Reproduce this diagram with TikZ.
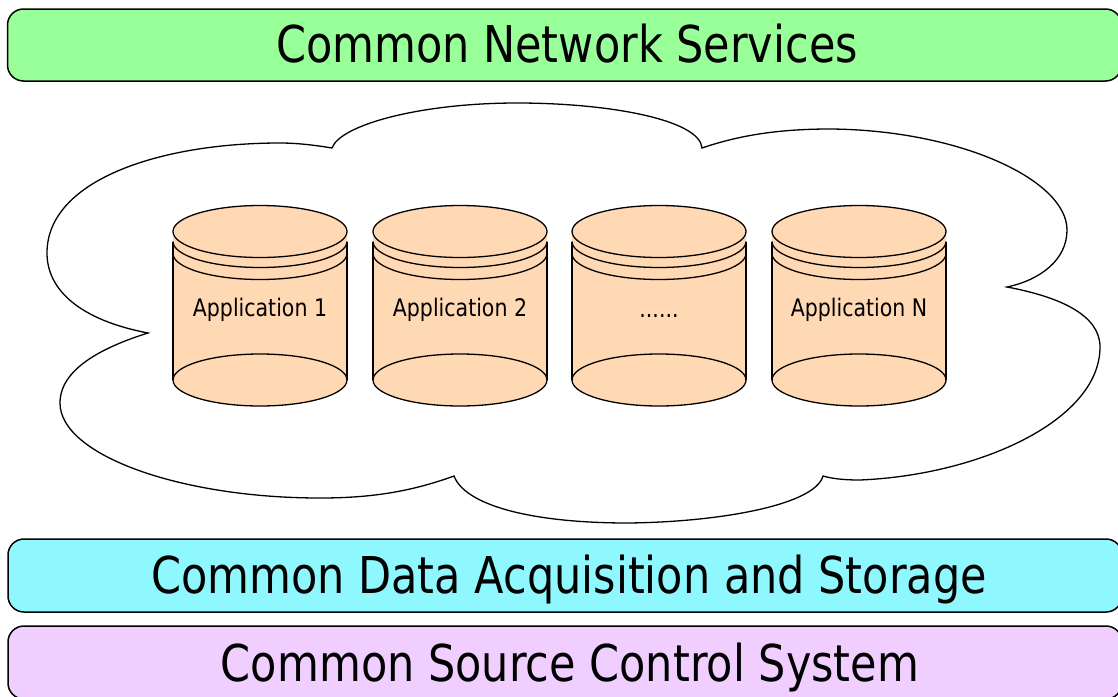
\documentclass[tikz,border=0pt]{standalone}
\usepackage{fontspec}
\setmainfont{DejaVu Sans}
\definecolor{barGreen}{RGB}{153,255,153}
\definecolor{barCyan}{RGB}{143,248,255}
\definecolor{barLilac}{RGB}{240,206,255}
\definecolor{peach}{RGB}{255,216,180}
\begin{document}
\begin{tikzpicture}[x=1pt,y=-1pt,
  bar/.style={draw=black, line width=1.5pt, rounded corners=16pt, inner sep=0pt, minimum width=1114pt},
  bigtext/.style={font=\fontsize{43}{43}\selectfont, anchor=base, inner sep=0pt},
  apptext/.style={font=\fontsize{20.5}{20.5}\selectfont, anchor=base, inner sep=0pt},
  cloudline/.style={draw=black, line width=1.3pt, fill=white},
  cylline/.style={draw=black, line width=1.3pt},
  appcyl/.pic={
    \fill[peach] (-87,380) arc[start angle=180,end angle=360,x radius=87pt,y radius=26pt]
      -- (87,231.5) arc[start angle=0,end angle=180,x radius=87pt,y radius=26pt] -- cycle;
    \draw[cylline] (0,380) ellipse[x radius=87pt,y radius=26pt];
    \draw[cylline] (-87,241.5) -- (-87,380);
    \draw[cylline] (87,241.5) -- (87,380);
    \draw[cylline] (-87,253.5) arc[start angle=180,end angle=360,x radius=87pt,y radius=26pt];
    \draw[cylline] (-87,241.5) arc[start angle=180,end angle=360,x radius=87pt,y radius=26pt];
    \draw[cylline, fill=peach] (0,231.5) ellipse[x radius=87pt,y radius=26pt];
  }]
\fill[white] (0,0) rectangle (1118,696);
\useasboundingbox (0,0) rectangle (1118,696);

% bars
\node[bar, fill=barGreen, minimum height=72pt] (netbar) at (564.5,45) {};
\node[bar, fill=barCyan, minimum height=73pt] (databar) at (565,575.5) {};
\node[bar, fill=barLilac, minimum height=73pt] (srcbar) at (565,662.5) {};
\node[bigtext] (nettext) at (567,62) {\scalebox{1}[1.18]{Common Network Services}};
\node[bigtext] (datatext) at (569,593) {\scalebox{1}[1.18]{Common Data Acquisition and Storage}};
\node[bigtext] (srctext) at (570,681) {\scalebox{1}[1.18]{Common Source Control System}};

% cloud
\draw[cloudline] (332,148) .. controls (340,125) and (420,103) .. (517,103)
  .. controls (610,103) and (700,120) .. (702,148)
  .. controls (740,135) and (780,129) .. (830,129)
  .. controls (960,130) and (1067,180) .. (1067,230)
  .. controls (1067,260) and (1040,280) .. (1007,287)
  .. controls (1060,297) and (1100,315) .. (1100,347)
  .. controls (1100,420) and (980,475) .. (860,480)
  .. controls (840,480) and (830,478) .. (823,476)
  .. controls (815,505) and (720,522) .. (628,523)
  .. controls (530,523) and (465,505) .. (454,476)
  .. controls (410,492) and (370,498) .. (320,498)
  .. controls (180,498) and (60,455) .. (60,403)
  .. controls (60,370) and (100,348) .. (148,333)
  .. controls (80,320) and (47,290) .. (47,253)
  .. controls (47,180) and (160,143) .. (280,143)
  .. controls (300,143) and (320,146) .. (332,148) -- cycle;

% cylinders
\pic at (260,0) {appcyl};
\pic at (460,0) {appcyl};
\pic at (659,0) {appcyl};
\pic at (859,0) {appcyl};
\node[apptext] (app1) at (260,316) {\scalebox{1}[1.18]{Application 1}};
\node[apptext] (app2) at (460,316) {\scalebox{1}[1.18]{Application 2}};
\node[apptext] (app3) at (659,317) {\scalebox{1}[1.18]{......}};
\node[apptext] (appN) at (859,316) {\scalebox{1}[1.18]{Application N}};
\end{tikzpicture}
\end{document}
